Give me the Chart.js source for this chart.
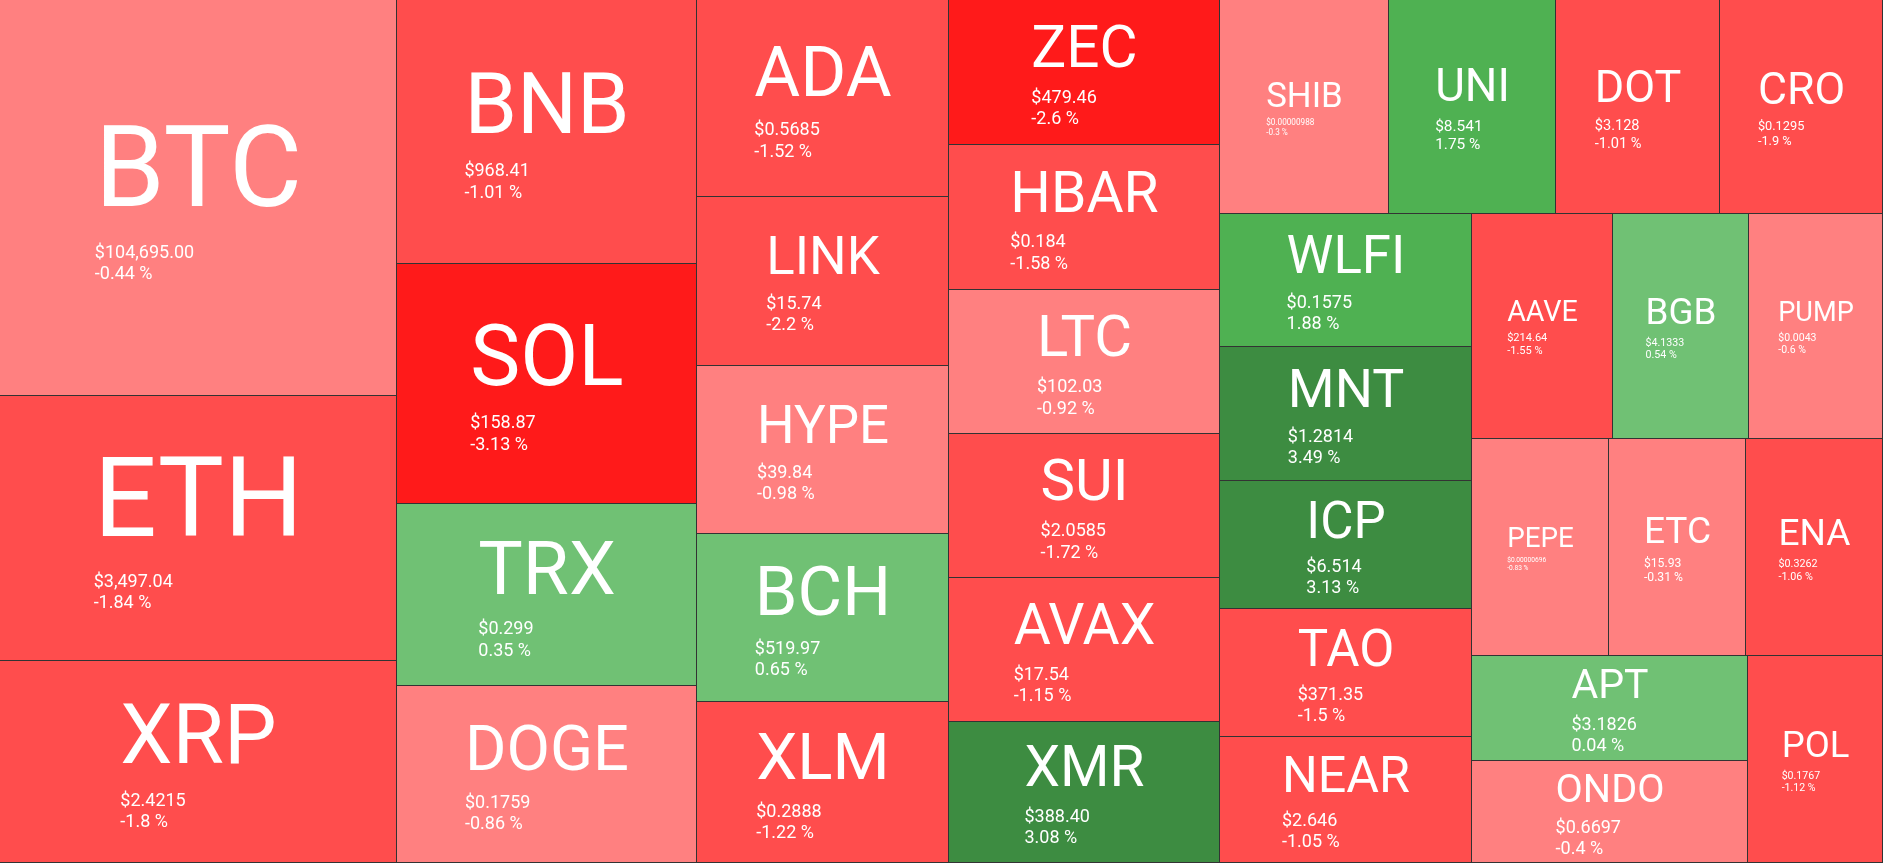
<!DOCTYPE html>
<html>
<head>
<meta charset="utf-8">
<script src="https://cdn.jsdelivr.net/npm/chart.js@4.4.1/dist/chart.umd.min.js"></script>
<style>
html, body { margin: 0; padding: 0; background: #ffffff; overflow: hidden; }
#wrap { position: relative; width: 1883px; height: 863px; }
</style>
</head>
<body>
<div id="wrap"><canvas id="c"></canvas></div>
<script>
// ---- data ----
const symbols = ['BTC','ETH','XRP','BNB','SOL','TRX','DOGE','ADA','LINK','HYPE','BCH','XLM',
  'ZEC','HBAR','LTC','SUI','AVAX','XMR','SHIB','UNI','DOT','CRO','WLFI','MNT','ICP','TAO','NEAR',
  'AAVE','BGB','PUMP','PEPE','ETC','ENA','APT','ONDO','POL'];
const weights = [157212,105205,80194,79200,72000,54600,53100,49644,42588,42336,42300,40572,
  39150,39100,39050,38900,38850,38100,36166,35738,35096,34882,33500,33900,32384,32131,31878,
  31725,30600,30150,29800,29700,29650,28980,28152,27945];
const priceLabels = ['$104,695.00','$3,497.04','$2.4215','$968.41','$158.87','$0.299','$0.1759',
  '$0.5685','$15.74','$39.84','$519.97','$0.2888','$479.46','$0.184','$102.03','$2.0585','$17.54',
  '$388.40','$0.00000988','$8.541','$3.128','$0.1295','$0.1575','$1.2814','$6.514','$371.35',
  '$2.646','$214.64','$4.1333','$0.0043','$0.00000696','$15.93','$0.3262','$3.1826','$0.6697','$0.1767'];
const changes = [-0.44,-1.84,-1.8,-1.01,-3.13,0.35,-0.86,-1.52,-2.2,-0.98,0.65,-1.22,
  -2.6,-1.58,-0.92,-1.72,-1.15,3.08,-0.3,1.75,-1.01,-1.9,1.88,3.49,3.13,-1.5,-1.05,
  -1.55,0.54,-0.6,-0.83,-0.31,-1.06,0.04,-0.4,-1.12];

// ---- colour scale ----
function cellColor(ch) {
  if (ch >= 3) return '#3d8c41';
  if (ch >= 1) return '#4fb152';
  if (ch >= 0) return '#70c174';
  if (ch > -1) return '#ff8080';
  if (ch > -2.5) return '#ff4d4d';
  return '#ff1a1a';
}

// ---- squarified layout (golden ratio), returns rects in [0,W]x[0,H] ----
const PHI = (1 + Math.sqrt(5)) / 2;
function squarify(values, W, H, ratio) {
  const out = new Array(values.length);
  let x0 = 0, y0 = 0, x1 = W, y1 = H;
  let value = values.reduce((a, b) => a + b, 0);
  let i0 = 0, i1 = 0;
  const n = values.length;
  while (i0 < n) {
    const dx = x1 - x0, dy = y1 - y0;
    let sumValue = values[i1++];
    let minValue = sumValue, maxValue = sumValue;
    const alpha = Math.max(dy / dx, dx / dy) / (value * ratio);
    let beta = sumValue * sumValue * alpha;
    let minRatio = Math.max(maxValue / beta, beta / minValue);
    for (; i1 < n; ++i1) {
      const v = values[i1];
      sumValue += v;
      if (v < minValue) minValue = v;
      if (v > maxValue) maxValue = v;
      beta = sumValue * sumValue * alpha;
      const newRatio = Math.max(maxValue / beta, beta / minValue);
      if (newRatio > minRatio) { sumValue -= v; break; }
      minRatio = newRatio;
    }
    if (dx < dy) {
      const yb = (i1 >= n) ? y1 : y0 + dy * sumValue / value;
      let x = x0;
      for (let i = i0; i < i1; i++) {
        const w = dx * values[i] / sumValue;
        out[i] = { x0: x, x1: x + w, y0: y0, y1: yb };
        x += w;
      }
      y0 = yb;
    } else {
      const xb = (i1 >= n) ? x1 : x0 + dx * sumValue / value;
      let y = y0;
      for (let i = i0; i < i1; i++) {
        const h = dy * values[i] / sumValue;
        out[i] = { x0: x0, x1: xb, y0: y, y1: y + h };
        y += h;
      }
      x0 = xb;
    }
    value -= sumValue;
    i0 = i1;
  }
  return out;
}

// ---- custom Chart.js controller drawing cells as bar elements ----
class TreemapController extends Chart.DatasetController {
  parse(start, count) {
    const meta = this._cachedMeta;
    for (let i = start; i < start + count; i++) meta._parsed[i] = { x: 0.5, y: 0.5 };
  }
  getMinMax(scale) { return { min: 0, max: 1 }; }
  update(mode) {
    const meta = this._cachedMeta;
    this.updateElements(meta.data, 0, meta.data.length, mode);
  }
  updateElements(elems, start, count, mode) {
    const meta = this._cachedMeta;
    const xs = meta.xScale, ys = meta.yScale;
    const W = xs.right - xs.left, H = ys.bottom - ys.top;
    if (!(W > 0 && H > 0)) return;
    const rects = squarify(this.getDataset().data, W, H, PHI);
    for (let i = start; i < start + count; i++) {
      const r = rects[i];
      const l = Math.round(xs.getPixelForValue(r.x0 / W));
      const rt = Math.round(xs.getPixelForValue(r.x1 / W));
      const t = Math.round(ys.getPixelForValue(r.y0 / H));
      const b = Math.round(ys.getPixelForValue(r.y1 / H));
      const props = {
        x: (l + rt) / 2,
        y: Math.min(t, b),
        base: Math.max(t, b),
        width: rt - l,
        height: Math.abs(b - t),
        horizontal: false,
        inflateAmount: 0,
        borderSkipped: { top: true, left: true, bottom: false, right: false },
        options: this.resolveDataElementOptions(i, mode)
      };
      this.updateElement(elems[i], i, props, mode);
    }
  }
}
TreemapController.id = 'treemap';
TreemapController.defaults = { datasetElementType: false, dataElementType: 'bar' };
Chart.register(TreemapController);

// ---- labels ----
const labelPlugin = {
  id: 'cellLabels',
  afterDatasetsDraw(chart) {
    const ctx = chart.ctx;
    const meta = chart.getDatasetMeta(0);
    ctx.save();
    ctx.fillStyle = '#ffffff';
    ctx.textBaseline = 'alphabetic';
    ctx.textAlign = 'left';
    meta.data.forEach((el, i) => {
      const w = el.width, h = Math.abs(el.base - el.y);
      if (!(w > 0 && h > 0)) return;
      const cx = el.x, cy = (el.y + el.base) / 2;
      const sym = symbols[i];
      const F = Math.min((0.87 * w - 8) / sym.length, 0.438 * h - 5);
      const priceText = priceLabels[i];
      const chText = changes[i] + ' %';
      ctx.font = '400 100px Roboto';
      const pw = Math.max(ctx.measureText(priceText).width, ctx.measureText(chText).width) / 100;
      const P = Math.min(18, 0.285 * w / pw);
      ctx.font = '400 ' + F.toFixed(2) + 'px Roboto';
      const sw = ctx.measureText(sym).width;
      const left = cx - sw / 2;
      const gap = 0.28 * F + 1.1 * P;
      const lh = 1.18 * P;
      const ys = cy + 0.04 * F + (0.711 * F - gap - lh) / 2;
      ctx.fillText(sym, left, ys);
      ctx.font = '400 ' + P.toFixed(2) + 'px Roboto';
      ctx.fillText(priceText, left, ys + gap);
      ctx.fillText(chText, left, ys + gap + lh);
    });
    ctx.restore();
  }
};

new Chart(document.getElementById('c'), {
  type: 'treemap',
  data: {
    labels: symbols,
    datasets: [{
      data: weights,
      backgroundColor: (c) => cellColor(changes[c.dataIndex]),
      borderColor: '#333333',
      borderWidth: 1
    }]
  },
  options: {
    responsive: true,
    maintainAspectRatio: false,
    devicePixelRatio: 1,
    animation: false,
    events: [],
    layout: { padding: 0 },
    plugins: { legend: { display: false }, tooltip: { enabled: false } },
    scales: {
      x: { type: 'linear', min: 0, max: 1, display: false },
      y: { type: 'linear', min: 0, max: 1, reverse: true, display: false }
    }
  },
  plugins: [labelPlugin]
});
</script>
</body>
</html>
